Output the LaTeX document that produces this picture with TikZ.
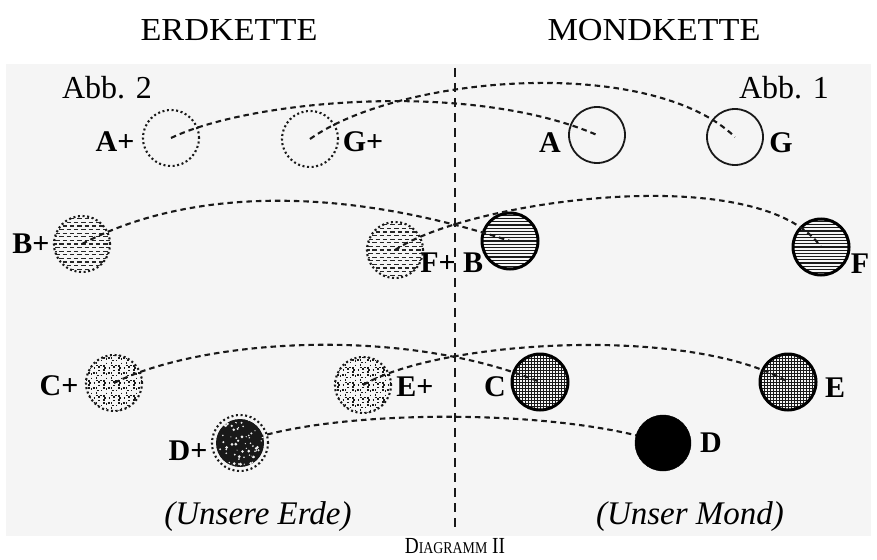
\documentclass[tikz,border=0pt]{standalone}
\usepackage{fontspec}
\setmainfont{Liberation Serif}
\begin{document}
\pgfmathsetseed{7}
\begin{tikzpicture}[x=1pt,y=-1pt,
  ball/.style={circle, minimum size=56pt, inner sep=0pt, outer sep=0pt},
  dotring/.style={draw=black!90, line width=2.1pt, dash pattern=on 2pt off 2.6pt},
  thinring/.style={draw=black!90, line width=1.8pt},
  thickring/.style={draw=black, line width=3pt},
  hdashfill/.style={path picture={
    \begin{scope}[shift={(path picture bounding box.center)}]
      \foreach \k in {-8,...,8}{
        \pgfmathsetmacro\ph{mod(abs(\k),2)*4}
        \draw[black!85, line width=1.3pt, dash pattern=on 4.5pt off 2.8pt, dash phase=\ph pt] (-30,\k*3.6) -- (30,\k*3.6);}
    \end{scope}}},
  hlinefill/.style={path picture={
    \begin{scope}[shift={(path picture bounding box.center)}]
      \foreach \k in {-9,...,9}{
        \draw[black!90, line width=1.2pt] (-30,\k*3.2) -- (30,\k*3.2);}
    \end{scope}}},
  gridfill/.style={path picture={
    \begin{scope}[shift={(path picture bounding box.center)}]
      \foreach \k in {-10,...,10}{
        \draw[black!90, line width=1pt] (-30,\k*3) -- (30,\k*3);
        \draw[black!90, line width=1pt] (\k*3,-30) -- (\k*3,30);}
    \end{scope}}},
  basketfill/.style={path picture={
    \begin{scope}[shift={(path picture bounding box.center)}]
      \foreach \i in {-4,...,4}{
        \foreach \j in {-4,...,4}{
          \pgfmathtruncatemacro\parity{mod(abs(\i+\j),2)}
          \ifnum\parity=0
            \draw[black!90, line width=1.4pt] (\i*7.5-3.2,\j*7.5-2.5) -- (\i*7.5+3.2,\j*7.5-2.5) (\i*7.5,\j*7.5-2.5) -- (\i*7.5,\j*7.5+3.2);
          \else
            \draw[black!90, line width=1.4pt] (\i*7.5-2.5,\j*7.5-3.2) -- (\i*7.5-2.5,\j*7.5+3.2) (\i*7.5-2.5,\j*7.5) -- (\i*7.5+3.2,\j*7.5);
          \fi}}
    \end{scope}}},
  speckfill/.style={path picture={
    \begin{scope}[shift={(path picture bounding box.center)}]
      \fill[black!90] (0,0) circle (24);
      \foreach \n in {1,...,60}{
        \pgfmathsetmacro\aa{360*rnd}
        \pgfmathsetmacro\rr{24*sqrt(rnd)}
        \pgfmathsetmacro\ss{0.5+1.1*rnd}
        \fill[white!94!black] (\aa:\rr) circle (\ss);}
      \draw[white!94!black, line width=1pt] (0,0) circle (25);
    \end{scope}}},
  conn/.style={black!90, line width=2.1pt, dash pattern=on 5.5pt off 4pt},
  vline/.style={black!90, line width=2.1pt, dash pattern=on 9pt off 6pt},
  title/.style={font=\fontsize{32}{32}\selectfont, inner sep=0pt},
  abb/.style={font=\fontsize{32}{32}\selectfont, inner sep=0pt},
  lab/.style={font=\fontsize{30}{30}\selectfont\bfseries, inner sep=0pt},
  capt/.style={font=\fontsize{33}{33}\selectfont\itshape, inner sep=0pt},
  diag/.style={font=\fontsize{23}{23}\selectfont, inner sep=0pt}
]
\useasboundingbox (0,0) rectangle (877,559);
\fill[black!4] (6,64) rectangle (871,536);

% vertical divider
\coordinate (vtop) at (455,68);
\coordinate (vbot) at (455,530);
\draw[vline] (vtop) -- (vbot);

% Earth chain (left)
\node[ball, dotring] (Ap) at (171,138) {};
\node[ball, dotring] (Gp) at (310,139) {};
\node[ball, dotring, hdashfill] (Bp) at (82,244) {};
\node[ball, dotring, hdashfill] (Fp) at (395,250) {};
\node[ball, dotring, basketfill] (Cp) at (114,383) {};
\node[ball, dotring, basketfill] (Ep) at (363,385) {};
\node[ball, dotring, speckfill] (Dp) at (240,443) {};

% Moon chain (right)
\node[ball, thinring] (A) at (597,135) {};
\node[ball, thinring] (G) at (735,137) {};
\node[ball, thickring, hlinefill] (B) at (510,241) {};
\node[ball, thickring, hlinefill] (F) at (821,247) {};
\node[ball, thickring, gridfill] (C) at (540,382) {};
\node[ball, thickring, gridfill] (E) at (788,382) {};

% connecting curves
\draw[conn] (Ap.center) .. controls (250,100) and (470,80) .. (A.center);
\draw[conn] (Gp.center) .. controls (400,75) and (650,55) .. (G.center);
\draw[conn] (Bp.center) .. controls (180,192) and (330,182) .. (B.center);
\draw[conn] (Fp.center) .. controls (470,200) and (760,160) .. (F.center);
\draw[conn] (Cp.center) .. controls (200,340) and (400,325) .. (C.center);
\draw[conn] (Ep.center) .. controls (440,340) and (690,325) .. (E.center);
\draw[conn] (Dp.center) .. controls (330,408) and (560,408) .. (663,443);

\node[ball, fill=black, draw=black] (D) at (663,443) {};

% labels
\node[lab] (lAp) at (115,142) {A+};
\node[lab] (lGp) at (363,142) {G+};
\node[lab] (lA) at (550,143) {A};
\node[lab] (lG) at (781,143) {G};
\node[lab] (lBp) at (31,244) {B+};
\node[lab] (lFp) at (438,263) {F+};
\node[lab] (lB) at (473,263) {B};
\node[lab] (lF) at (860,264) {F};
\node[lab] (lCp) at (59,386) {C+};
\node[lab] (lEp) at (415,387) {E+};
\node[lab] (lC) at (495,387) {C};
\node[lab] (lE) at (835,388) {E};
\node[lab] (lDp) at (188,451) {D+};
\node[lab] (lD) at (711,443) {D};

% titles and captions
\node[title] (t1) at (229,30) {\scalebox{1.07}[1]{ERDKETTE}};
\node[title] (t2) at (654,30) {\scalebox{1.07}[1]{MONDKETTE}};
\node[abb] (abb2) at (107,88) {Abb. 2};
\node[abb] (abb1) at (784,88) {Abb. 1};
\node[capt] (ue) at (258,517) {(Unsere Erde)};
\node[capt] (um) at (690,517) {(Unser Mond)};
\node[diag] (dg) at (455,546) {\scalebox{0.84}[1]{D{\fontsize{16.5}{16.5}\selectfont IAGRAMM} II}};
\end{tikzpicture}
\end{document}
